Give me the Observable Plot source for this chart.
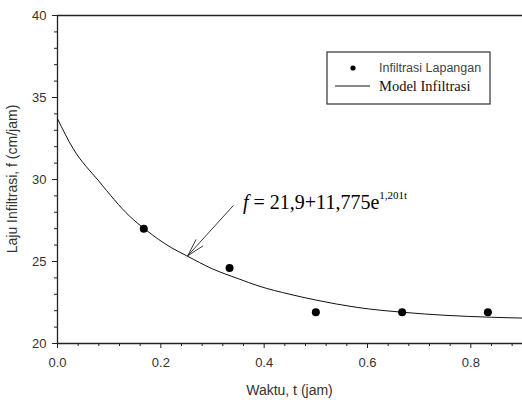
<!DOCTYPE html>
<html><head><meta charset="utf-8">
<script src="https://cdn.jsdelivr.net/npm/d3@7"></script>
<script src="https://cdn.jsdelivr.net/npm/@observablehq/plot@0.6"></script>
<style>
body{margin:0;background:#fff;}
#wrap{position:relative;width:522px;height:402px;overflow:hidden;}
</style>
</head><body><div id="wrap"></div>
<script>
// Observed field infiltration (Infiltrasi Lapangan)
const obsT = [0.167, 0.333, 0.5, 0.667, 0.833];
const obsF = [27.0, 24.6, 21.9, 21.9, 21.9];
// Model curve (Model Infiltrasi)
const modelT = [0, 0.03, 0.08, 0.14, 0.17, 0.22, 0.25, 0.30, 0.35, 0.39, 0.45, 0.50, 0.58, 0.67, 0.75, 0.84, 0.90];
const modelF = [33.7, 31.9, 29.9, 27.75, 26.95, 25.85, 25.35, 24.55, 23.95, 23.5, 23.0, 22.65, 22.2, 21.9, 21.72, 21.6, 21.55];
// ticks
const xTicks = [0, 0.2, 0.4, 0.6, 0.8];
const xMinor = [0.04, 0.08, 0.12, 0.16, 0.24, 0.28, 0.32, 0.36, 0.44, 0.48, 0.52, 0.56, 0.64, 0.68, 0.72, 0.76, 0.84, 0.88];
const yTicks = [20, 25, 30, 35, 40];
const yMinor = [21, 22, 23, 24, 26, 27, 28, 29, 31, 32, 33, 34, 36, 37, 38, 39];
// texts
const xTitle = "Waktu, t (jam)";
const yTitle = "Laju Infiltrasi, f (cm/jam)";
const legendLabels = ["Infiltrasi Lapangan", "Model Infiltrasi"];
const eqMain = " = 21,9+11,775e";
const eqExp = "1,201t";
// annotation arrow (data coords): from tail to tip
const arrowT = [0.34, 0.252];
const arrowF = [28.4, 25.35];
// equation anchor (data coords)
const eqT = 0.36, eqF = 28.2;

const obs = obsT.map((t, i) => ({t, f: obsF[i]}));
const model = modelT.map((t, i) => ({t, f: modelF[i]}));
const axisCol = "#222";
const SANS = "'Liberation Sans', Arial, sans-serif";
const SERIF = "'Liberation Serif', 'DejaVu Serif', serif";

const chart = Plot.plot({
  width: 522, height: 402,
  marginTop: 15, marginBottom: 59, marginLeft: 57, marginRight: 0,
  x: {domain: [0, 0.9]},
  y: {domain: [20, 40]},
  style: {fontFamily: SANS, fontSize: "13px", color: "#333", background: "#fff", overflow: "visible"},
  marks: [
    Plot.axisX({ticks: xMinor, tickSize: 3, tickFormat: () => "", label: null, stroke: axisCol}),
    Plot.axisX({ticks: xTicks, tickSize: 5, tickPadding: 9, tickFormat: d3.format(".1f"), label: null, stroke: axisCol}),
    Plot.axisY({ticks: yMinor, tickSize: 3, tickFormat: () => "", label: null, stroke: axisCol}),
    Plot.axisY({ticks: yTicks, tickSize: 5, tickPadding: 6, tickFormat: d3.format("d"), label: null, stroke: axisCol}),
    Plot.ruleY([20, 40], {stroke: axisCol, strokeWidth: 1.3}),
    Plot.ruleX([0], {stroke: axisCol, strokeWidth: 1.3}),
    Plot.line(model, {x: "t", y: "f", curve: "monotone-x", stroke: "#111", strokeWidth: 1}),
    Plot.dot(obs, {x: "t", y: "f", r: 4, fill: "#000", stroke: "none"}),
    Plot.arrow([0], {x1: () => arrowT[0], y1: () => arrowF[0], x2: () => arrowT[1], y2: () => arrowF[1],
      stroke: "#222", strokeWidth: 0.9, headLength: 30, headAngle: 30})
  ]
});
document.getElementById("wrap").appendChild(chart);

const svg = d3.select(chart);
const xs = chart.scale("x"), ys = chart.scale("y");

function txt(sel, family, size, anchor) {
  return sel.attr("font-family", family).style("font-family", family)
    .attr("font-size", size).style("font-size", size)
    .attr("text-anchor", anchor).style("text-anchor", anchor);
}

// axis titles
txt(svg.append("text").text(xTitle), SANS, "14px", "middle")
  .attr("x", (xs.range[0] + xs.range[1]) / 2).attr("y", 395).attr("fill", "#333");
txt(svg.append("text").text(yTitle), SANS, "14px", "middle")
  .attr("transform", `translate(17,${(ys.range[0] + ys.range[1]) / 2}) rotate(-90)`).attr("fill", "#333");

// equation
const eq = txt(svg.append("text"), SERIF, "20px", "start")
  .attr("x", xs.apply(eqT)).attr("y", ys.apply(eqF)).attr("fill", "#000");
eq.append("tspan").style("font-style", "italic").text("f");
eq.append("tspan").text(eqMain);
eq.append("tspan").attr("dy", -10).style("font-size", "11px").text(eqExp);

// legend
const lg = svg.append("g");
lg.append("rect").attr("x", 327).attr("y", 52).attr("width", 163).attr("height", 52)
  .attr("fill", "#fff").attr("stroke", "#333").attr("stroke-width", 1.2);
lg.append("circle").attr("cx", 353).attr("cy", 68).attr("r", 2.6).attr("fill", "#000");
txt(lg.append("text").text(legendLabels[0]), SANS, "12.5px", "start")
  .attr("x", 379).attr("y", 72).attr("fill", "#444");
lg.append("line").attr("x1", 335).attr("x2", 370).attr("y1", 86).attr("y2", 86)
  .attr("stroke", "#111").attr("stroke-width", 1);
txt(lg.append("text").text(legendLabels[1]), SERIF, "14.5px", "start")
  .attr("x", 379).attr("y", 91).attr("fill", "#111");
</script>
</body></html>
